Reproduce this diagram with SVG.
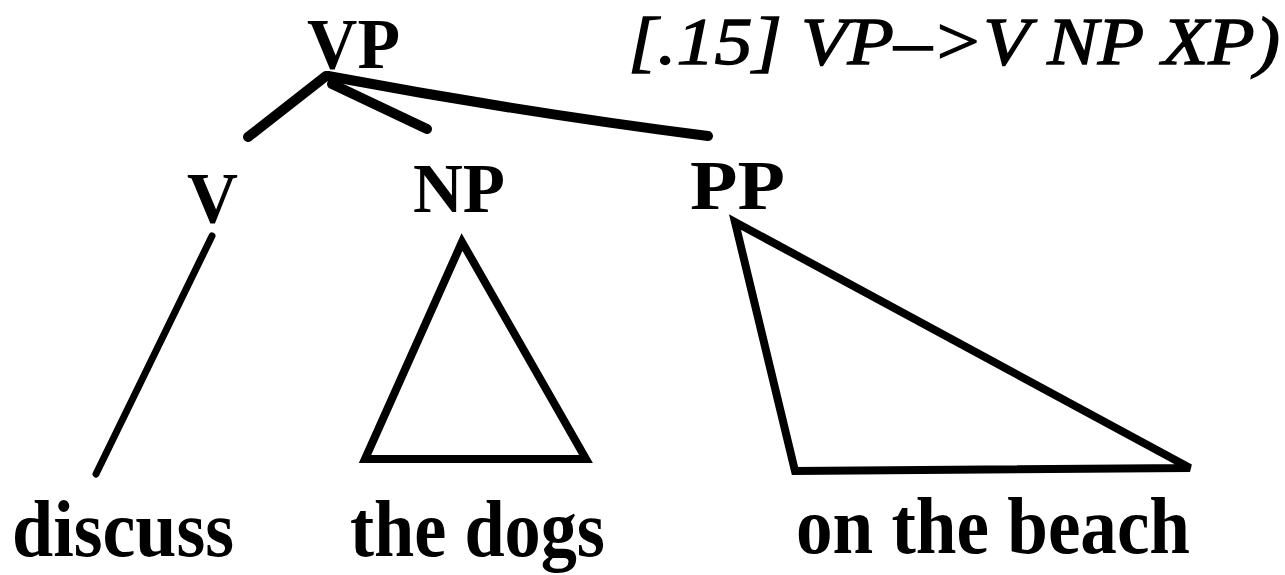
<svg xmlns="http://www.w3.org/2000/svg" width="1285" height="575" viewBox="0 0 1285 575">
<style>
.lab{font-family:"Liberation Serif","Times New Roman",serif;font-weight:bold;fill:#000}
.rule{font-family:"Liberation Serif","Times New Roman",serif;font-style:italic;fill:#000;stroke:#000;stroke-width:1.3}
.edge{stroke:#000;stroke-width:10;stroke-linecap:round;fill:none}
.tri{stroke:#000;stroke-width:8;stroke-linejoin:miter;fill:none}
</style>
<rect width="1285" height="575" fill="#fff"/>
<g id="connectors">
<line class="edge" x1="326" y1="76" x2="248" y2="137"/>
<line class="edge" x1="332" y1="84" x2="427" y2="129"/>
<path class="edge" d="M328,76 Q520,112 708,136"/>
<line class="edge" x1="212" y1="236" x2="96" y2="474" style="stroke-width:7"/>
</g>
<g id="node-VP"><text class="lab" x="307" y="68" font-size="72" textLength="93" lengthAdjust="spacingAndGlyphs">VP</text></g>
<g id="rule"><text class="rule" x="628" y="64" font-size="68" textLength="652" lengthAdjust="spacingAndGlyphs">[.15] VP–&gt;V NP XP)</text></g>
<g id="node-V"><text class="lab" x="187" y="222" font-size="72" textLength="51" lengthAdjust="spacingAndGlyphs">V</text></g>
<g id="node-NP"><text class="lab" x="413" y="212" font-size="70" textLength="92" lengthAdjust="spacingAndGlyphs">NP</text></g>
<g id="node-PP"><text class="lab" x="690" y="209" font-size="70" textLength="95" lengthAdjust="spacingAndGlyphs">PP</text></g>
<g id="tri-NP"><polygon class="tri" points="462,242 365,459 586,459"/></g>
<g id="tri-PP"><polygon class="tri" points="735,222 795,471 1190,468"/></g>
<g id="leaf-discuss"><text class="lab" x="12" y="556" font-size="80" textLength="222" lengthAdjust="spacingAndGlyphs">discuss</text></g>
<g id="leaf-the-dogs"><text class="lab" x="350" y="556" font-size="80" textLength="255" lengthAdjust="spacingAndGlyphs">the dogs</text></g>
<g id="leaf-on-the-beach"><text class="lab" x="796" y="553" font-size="80" textLength="394" lengthAdjust="spacingAndGlyphs">on the beach</text></g>
</svg>
